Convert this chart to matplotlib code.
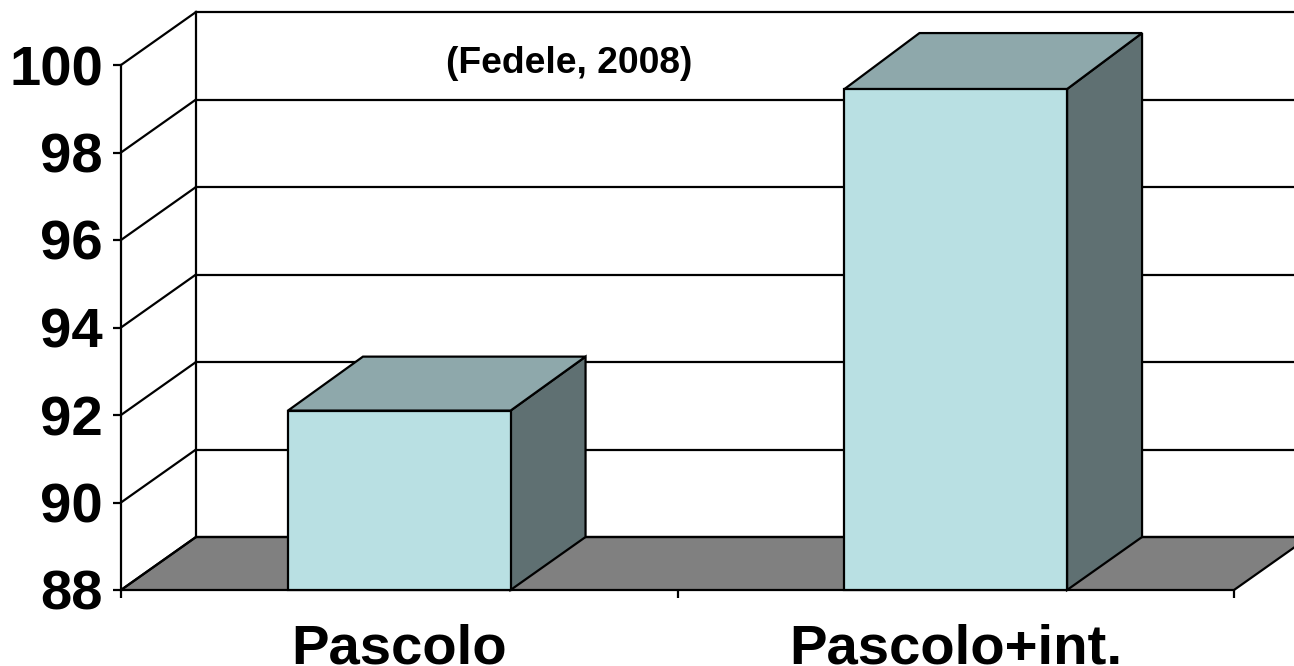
#!/usr/bin/env python
# -*- coding: utf-8 -*-
import matplotlib
matplotlib.use('Agg')
import matplotlib.pyplot as plt
from matplotlib.patches import Polygon

categories = ['Pascolo', 'Pascolo+int.']
values = [92.1, 99.45]
yticks = [88, 90, 92, 94, 96, 98, 100]
note = '(Fedele, 2008)'

(W, H) = (1294, 666)
(L, R, T, B) = (121, 1234, 65, 590)
(DX_PX, DY_PX) = (75, 53)
TOP_DY_PX = (54, 56)
BAR_W = 0.4
LW = 1.6
COL = {'front': '#b9e0e3', 'top': '#8ea8ab', 'side': '#5f7072', 'floor': '#808080'}

plt.rcParams['font.family'] = ['Liberation Sans', 'DejaVu Sans']
fig = plt.figure(figsize=(W/100, H/100), dpi=100, facecolor='white')
ax = fig.add_axes([L/W, 1-B/H, (R-L)/W, (B-T)/H])
ax.set_xlim(0, len(categories))
ax.set_ylim(yticks[0], yticks[-1])
ax.patch.set_visible(False)
for s in ['top', 'right', 'bottom']:
    ax.spines[s].set_visible(False)
ax.spines['left'].set_color('black')
ax.spines['left'].set_linewidth(LW)

# depth of the fake 3D box, in data units
dx = DX_PX/(R-L)*len(categories)
ppu = (B-T)/(yticks[-1]-yticks[0])
dy = DY_PX/ppu
xmax = len(categories)

def poly(pts, col, z):
    ax.add_patch(Polygon(
        pts, closed=True, facecolor=col, edgecolor='black',
        linewidth=LW, zorder=z, clip_on=False, joinstyle='miter'
    ))

y0 = yticks[0]
poly([(0, y0), (xmax, y0), (xmax+dx, y0+dy), (dx, y0+dy)], COL['floor'], 1)
# back wall
ax.plot([dx, dx], [y0+dy, yticks[-1]+dy], color='black', lw=LW, zorder=2, clip_on=False)
for t in yticks:
    ax.plot([0, dx], [t, t+dy], color='black', lw=LW, zorder=2, clip_on=False)
    ax.plot([dx, xmax+dx], [t+dy, t+dy], color='black', lw=LW, zorder=2, clip_on=False)

for (i, v) in enumerate(values):
    (x0, x1) = (i+0.5-BAR_W/2, i+0.5+BAR_W/2)
    top = v+TOP_DY_PX[i]/ppu
    poly([(x1, y0), (x1+dx, y0+dy), (x1+dx, top), (x1, v)], COL['side'], 3)
    poly([(x0, v), (x1, v), (x1+dx, top), (x0+dx, top)], COL['top'], 3)
    poly([(x0, y0), (x1, y0), (x1, v), (x0, v)], COL['front'], 4)

ax.set_yticks(yticks)
ax.set_yticklabels([str(t) for t in yticks], fontsize=40.5, fontweight='bold')
ax.tick_params(axis='y', length=6, width=LW, pad=7)
ax.set_xticks(range(xmax+1))
ax.set_xticklabels(['']*(xmax+1))
ax.tick_params(axis='x', length=6, width=LW)
for (i, c) in enumerate(categories):
    ax.text(i+0.5, y0-73/ppu, c, ha='center', va='baseline', fontsize=40.5, fontweight='bold')
ax.text(0.805, 99.82, note, ha='center', va='baseline', fontsize=26.8, fontweight='bold', zorder=5)

fig.savefig('out.png', dpi=100, facecolor='white')
plt.close('all')
